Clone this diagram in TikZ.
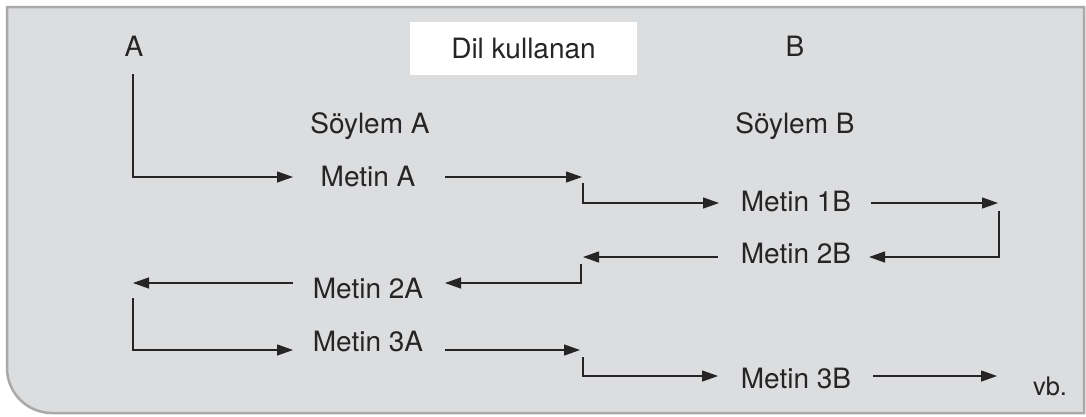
\documentclass[tikz,border=0pt]{standalone}
\usepackage{fontspec}
\setmainfont{TeX Gyre Heros}
\usetikzlibrary{arrows.meta}
\definecolor{bgc}{HTML}{DCDDDF}
\definecolor{bord}{HTML}{A9A9AA}
\definecolor{ink}{HTML}{262425}
\begin{document}
\begin{tikzpicture}[x=1pt,y=-1pt,
  lbl/.style={anchor=base, inner sep=0pt, text=ink, font=\fontsize{28}{33}\selectfont},
  arr/.style={draw=ink, line width=1.3pt, -{Triangle[length=16pt,width=11pt]}}]
\useasboundingbox (0,0) rectangle (1086,416);
\fill[white] (0,0) rectangle (1086,416);
\draw[fill=bgc, draw=bord, line width=2.5pt] (7,7) -- (1084,7) -- (1084,413)
  {[rounded corners=45pt] -- (7,413) -- (7,200)} -- cycle;
% labels
\node[lbl] (A) at (134,56) {A};
\node[fill=white, inner sep=0pt, minimum width=227pt, minimum height=53pt, text=ink,
  font=\fontsize{28}{33}\selectfont] (dil) at (523.5,48.5) {Dil kullanan};
\node[lbl] (B) at (795,56) {B};
\node[lbl] (sA) at (370,133) {Söylem A};
\node[lbl] (sB) at (795,133) {Söylem B};
\node[lbl] (mA) at (368,186) {Metin A};
\node[lbl] (m1B) at (796,211) {Metin 1B};
\node[lbl] (m2B) at (796,263) {Metin 2B};
\node[lbl] (m2A) at (368,298) {Metin 2A};
\node[lbl] (m3A) at (368,351) {Metin 3A};
\node[lbl] (m3B) at (796,388) {Metin 3B};
\node[lbl, font=\fontsize{25.5}{30}\selectfont] (vb) at (1050,395) {vb.};
% connector points
\coordinate (Adn) at (133,74);
\coordinate (mAin) at (293,177);
\coordinate (mAout) at (445,177);
\coordinate (j1) at (582,177);
\coordinate (j1b) at (583,183);
\coordinate (m1Bin) at (719,203);
\coordinate (m1Bout) at (871,203);
\coordinate (j2) at (998,203);
\coordinate (j2b) at (999,211);
\coordinate (m2Bin) at (869,257);
\coordinate (m2Bout) at (718,257);
\coordinate (j3) at (583,257);
\coordinate (j3b) at (581,264);
\coordinate (m2Ain) at (445,283);
\coordinate (m2Aout) at (293,283);
\coordinate (j4) at (133,283);
\coordinate (j4b) at (133,298);
\coordinate (m3Ain) at (293,350);
\coordinate (m3Aout) at (445,350);
\coordinate (j5) at (580,350);
\coordinate (j5b) at (583,357);
\coordinate (m3Bin) at (718,376);
\coordinate (m3Bout) at (873,376);
\coordinate (j6) at (997,376);
% connectors
\draw[arr] (Adn) |- (mAin);
\draw[arr] (mAout) -- (j1);
\draw[arr] (j1b) |- (m1Bin);
\draw[arr] (m1Bout) -- (j2);
\draw[arr] (j2b) |- (m2Bin);
\draw[arr] (m2Bout) -- (j3);
\draw[arr] (j3b) |- (m2Ain);
\draw[arr] (m2Aout) -- (j4);
\draw[arr] (j4b) |- (m3Ain);
\draw[arr] (m3Aout) -- (j5);
\draw[arr] (j5b) |- (m3Bin);
\draw[arr] (m3Bout) -- (j6);
\end{tikzpicture}
\end{document}
